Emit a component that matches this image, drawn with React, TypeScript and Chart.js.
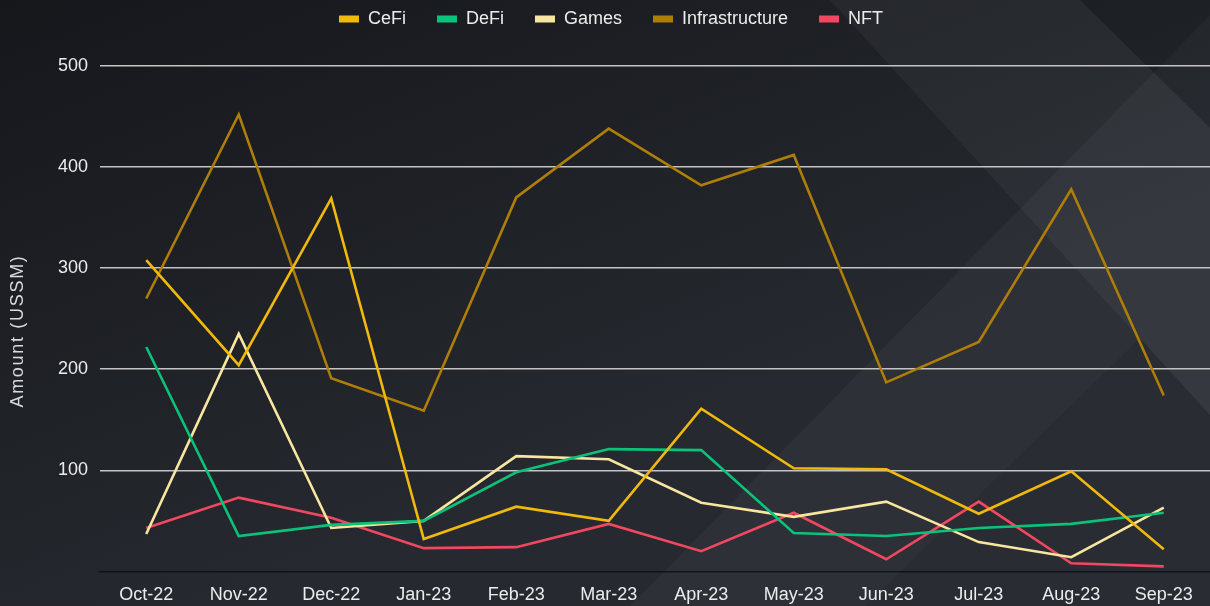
import React, { useEffect, useRef } from "react";
import { Chart, registerables } from "chart.js";

Chart.register(...registerables);

const months = ["Oct-22", "Nov-22", "Dec-22", "Jan-23", "Feb-23", "Mar-23", "Apr-23", "May-23", "Jun-23", "Jul-23", "Aug-23", "Sep-23"];
const cefi = [308, 204, 369, 32, 64, 50, 161, 102, 101, 57, 99, 22];
const defi = [222, 35, 46, 50, 98, 121, 120, 38, 35, 43, 47, 58];
const games = [37, 235, 43, 50, 114, 111, 68, 54, 69, 29, 14, 63];
const infrastructure = [270, 452, 191, 159, 370, 438, 382, 412, 187, 227, 378, 174];
const nft = [43, 73, 53, 23, 24, 47, 20, 58, 12, 69, 8, 5];
const yTicks = [0, 100, 200, 300, 400, 500];

const FONT = "'Liberation Sans', Arial, sans-serif";

const bgPlugin = {
  id: "bg",
  beforeDraw(chart: any) {
    const { ctx, width, height } = chart;
    ctx.save();
    const g = ctx.createLinearGradient(0, 0, width * 0.2, height);
    g.addColorStop(0, "#15171b");
    g.addColorStop(1, "#26292f");
    ctx.fillStyle = g;
    ctx.fillRect(0, 0, width, height);
    const poly = (pts: number[][], color: string) => {
      ctx.beginPath();
      ctx.moveTo(pts[0][0], pts[0][1]);
      for (let i = 1; i < pts.length; i++) ctx.lineTo(pts[i][0], pts[i][1]);
      ctx.closePath();
      ctx.fillStyle = color;
      ctx.fill();
    };
    poly([[830, 0], [1080, 0], [1210, 128], [1210, 415]], "rgba(255,255,255,0.04)");
    poly([[1225, 0], [1210, 606], [630, 606]], "rgba(255,255,255,0.035)");
    poly([[1140, 338], [1210, 415], [1210, 606], [865, 606]], "rgba(0,0,0,0.07)");
    poly([[1080, 0], [1210, 0], [1210, 128]], "rgba(0,0,0,0.08)");
    ctx.restore();
  },
};

const overlayPlugin = {
  id: "overlay",
  afterDraw(chart: any) {
    const { ctx } = chart;
    ctx.save();
    // y-axis title
    ctx.translate(18, 331);
    ctx.rotate(-Math.PI / 2);
    ctx.font = `18px ${FONT}`;
    (ctx as any).letterSpacing = "1.7px";
    ctx.fillStyle = "#d9d9d9";
    ctx.textAlign = "center";
    ctx.textBaseline = "middle";
    ctx.fillText("Amount (USSM)", 0, 0);
    ctx.restore();

    // legend
    ctx.save();
    ctx.font = `18px ${FONT}`;
    ctx.textBaseline = "middle";
    ctx.textAlign = "left";
    const ds = chart.data.datasets;
    const boxW = 20, boxH = 7, gapText = 9, gapItem = 31;
    const widths = ds.map((d: any) => boxW + gapText + ctx.measureText(d.label).width);
    const total = widths.reduce((a: number, b: number) => a + b, 0) + gapItem * (ds.length - 1);
    let x = (chart.width - total) / 2 + 6;
    const cy = 19;
    ds.forEach((d: any, i: number) => {
      ctx.fillStyle = d.borderColor;
      ctx.fillRect(x, cy - boxH / 2, boxW, boxH);
      ctx.fillStyle = "#ececec";
      ctx.fillText(d.label, x + boxW + gapText, cy);
      x += widths[i] + gapItem;
    });
    ctx.restore();
  },
};

export default function App() {
  const ref = useRef<HTMLCanvasElement>(null);
  useEffect(() => {
    document.body.style.margin = "0";
    document.body.style.background = "#1b1d21";
    const mk = (label: string, data: number[], color: string) => ({
      label,
      data,
      borderColor: color,
      backgroundColor: color,
      borderWidth: 2.6,
      pointRadius: 0,
      pointHoverRadius: 0,
      tension: 0,
      fill: false,
    });
    const chart = new Chart(ref.current!, {
      type: "line",
      data: {
        labels: months,
        datasets: [
          mk("CeFi", cefi, "#F0B90B"),
          mk("DeFi", defi, "#0CC27B"),
          mk("Games", games, "#F8E6A0"),
          mk("Infrastructure", infrastructure, "#AE7E08"),
          mk("NFT", nft, "#F04860"),
        ],
      },
      options: {
        animation: false,
        responsive: false,
        layout: { padding: { top: 66, right: 0, bottom: -13, left: 0 } },
        plugins: {
          legend: { display: false },
          tooltip: { enabled: false },
        },
        scales: {
          x: {
            offset: true,
            grid: { display: false, drawTicks: false },
            border: { display: true, color: "rgba(10,10,12,0.7)", width: 1.5 },
            ticks: { color: "#ececec", font: { family: FONT, size: 18 }, padding: 13, maxRotation: 0, autoSkip: false },
          },
          y: {
            min: 0,
            max: 500,
            afterFit(scale: any) {
              scale.width = 100;
            },
            afterBuildTicks(scale: any) {
              scale.ticks = yTicks.map((v) => ({ value: v }));
            },
            border: { display: false },
            grid: {
              drawTicks: false,
              color: (c: any) => (c.tick && c.tick.value === 0 ? "rgba(0,0,0,0)" : "#c4c4c4"),
              lineWidth: 1.5,
            },
            ticks: {
              color: "#ececec",
              font: { family: FONT, size: 18 },
              padding: 12,
              callback: (v: any) => (v === 0 ? "" : String(v)),
            },
          },
        },
      },
      plugins: [bgPlugin, overlayPlugin],
    });
    return () => chart.destroy();
  }, []);
  return <canvas ref={ref} width={1210} height={606} style={{ display: "block" }} />;
}
